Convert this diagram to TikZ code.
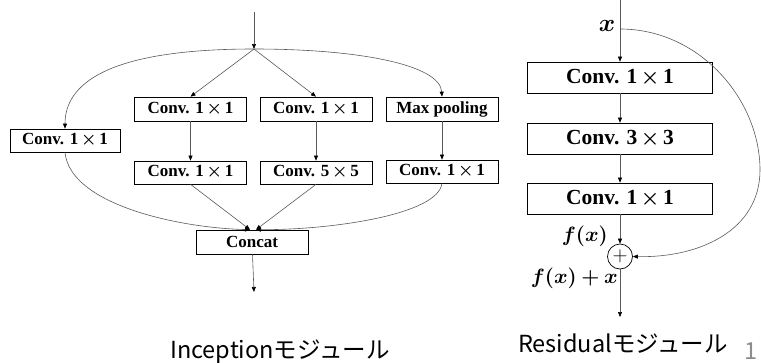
\documentclass[tikz,border=0pt]{standalone}
\usepackage{amsmath,amssymb,bm}
\usepackage{fontspec}
\setmainfont{Liberation Serif}
\newfontfamily\jpfont{Noto Sans CJK JP}
\usetikzlibrary{arrows.meta}
\newcommand{\tms}{\,$\bm{\times}$\,}

\begin{document}
\begin{tikzpicture}[x=1pt,y=-1pt,
  blk/.style={draw, line width=0.7pt, inner sep=0pt, minimum height=24pt,
    minimum width=112pt, font=\fontsize{17}{18}\selectfont\bfseries},
  bigblk/.style={blk, minimum height=31pt, minimum width=185pt,
    font=\fontsize{21.5}{24}\selectfont\bfseries},
  arr/.style={draw=black!65, line width=0.6pt,
    -{Triangle[length=5pt,width=4pt,black]}},
  lbl/.style={font=\fontsize{23.5}{25}\selectfont\jpfont}]
 \useasboundingbox (0,0) rectangle (761,362);
 % Inception
 \coordinate (inTop) at (254,12);
 \coordinate (split) at (254,49);
 \node[blk, minimum width=110pt, minimum height=23pt] (convA) at (65,140.5) {Conv. 1\tms 1};
 \node[blk] (convB1) at (190.5,109) {Conv. 1\tms 1};
 \node[blk] (convC1) at (316,109) {Conv. 1\tms 1};
 \node[blk] (pool) at (442,109) {Max pooling};
 \node[blk, minimum height=23pt] (convB2) at (190.5,172.5) {Conv. 1\tms 1};
 \node[blk, minimum height=23pt] (convC2) at (316,172.5) {Conv. 5\tms 5};
 \node[blk, minimum height=23pt] (convD2) at (442,171.5) {Conv. 1\tms 1};
 \node[blk] (concat) at (252,242) {Concat};
 \coordinate (catL) at ([xshift=-2pt]concat.north);
 \coordinate (catR) at ([xshift=4pt]concat.north);
 \coordinate (outEnd) at (254,292);
 \draw[arr] (inTop) -- (split);
 \draw[arr] (split) .. controls (105,49) and (65,85) .. (convA.north);
 \draw[arr] (split) -- (convB1.north);
 \draw[arr] (split) -- (convC1.north);
 \draw[arr] (split) .. controls (360,49) and (440,65) .. (pool.north);
 \draw[arr] (convB1) -- (convB2);
 \draw[arr] (convC1) -- (convC2);
 \draw[arr] (pool) -- (convD2);
 \draw[arr] (convA.south) .. controls (70,205) and (180,228) .. (catL);
 \draw[arr] (convB2.south) -- (catL);
 \draw[arr] (convC2.south) -- (catR);
 \draw[arr] (convD2.south) .. controls (438,215) and (330,230) .. (catR);
 \draw[arr] (concat) -- (outEnd);
 \node[lbl, anchor=base] (incLbl) at (280,358) {Inceptionモジュール};
 % Residual
 \coordinate (resTop) at (620,0);
 \coordinate (xtap) at (620,29);
 \node[font=\fontsize{24}{24}\selectfont] (xin) at (607,26) {$\bm{x}$};
 \node[bigblk] (res1) at (620,77.5) {Conv. 1\tms 1};
 \node[bigblk] (res2) at (620,138.5) {Conv. 3\tms 3};
 \node[bigblk] (res3) at (620,198.5) {Conv. 1\tms 1};
 \node[draw, circle, line width=0.7pt, minimum size=25pt, inner sep=0pt,
   font=\fontsize{22}{22}\selectfont] (plus) at (620,256.5) {$+$};
 \node[font=\fontsize{20.5}{22}\selectfont, anchor=east, inner sep=1pt] (fx) at (609,236) {$\bm{f(x)}$};
 \node[font=\fontsize{20}{22}\selectfont, anchor=east, inner sep=1pt] (fxx) at (619,278) {$\bm{f(x)+x}$};
 \coordinate (resEnd) at (620,317);
 \draw[draw=black!65, line width=0.6pt] (resTop) -- (xtap);
 \draw[arr] (xtap) -- (res1);
 \draw[arr] (res1) -- (res2);
 \draw[arr] (res2) -- (res3);
 \draw[arr] (res3) -- (plus);
 \draw[arr] (xtap) .. controls (700,29) and (760,100) .. (760,170)
   .. controls (760,230) and (700,258) .. (plus.east);
 \draw[arr] (plus) -- (resEnd);
 \node[lbl, anchor=base] (resLbl) at (623,352) {Residualモジュール};
 \node[lbl, anchor=base west, text=black!45, inner sep=0pt] (pageNo) at (744,359) {1};
\end{tikzpicture}
\end{document}
